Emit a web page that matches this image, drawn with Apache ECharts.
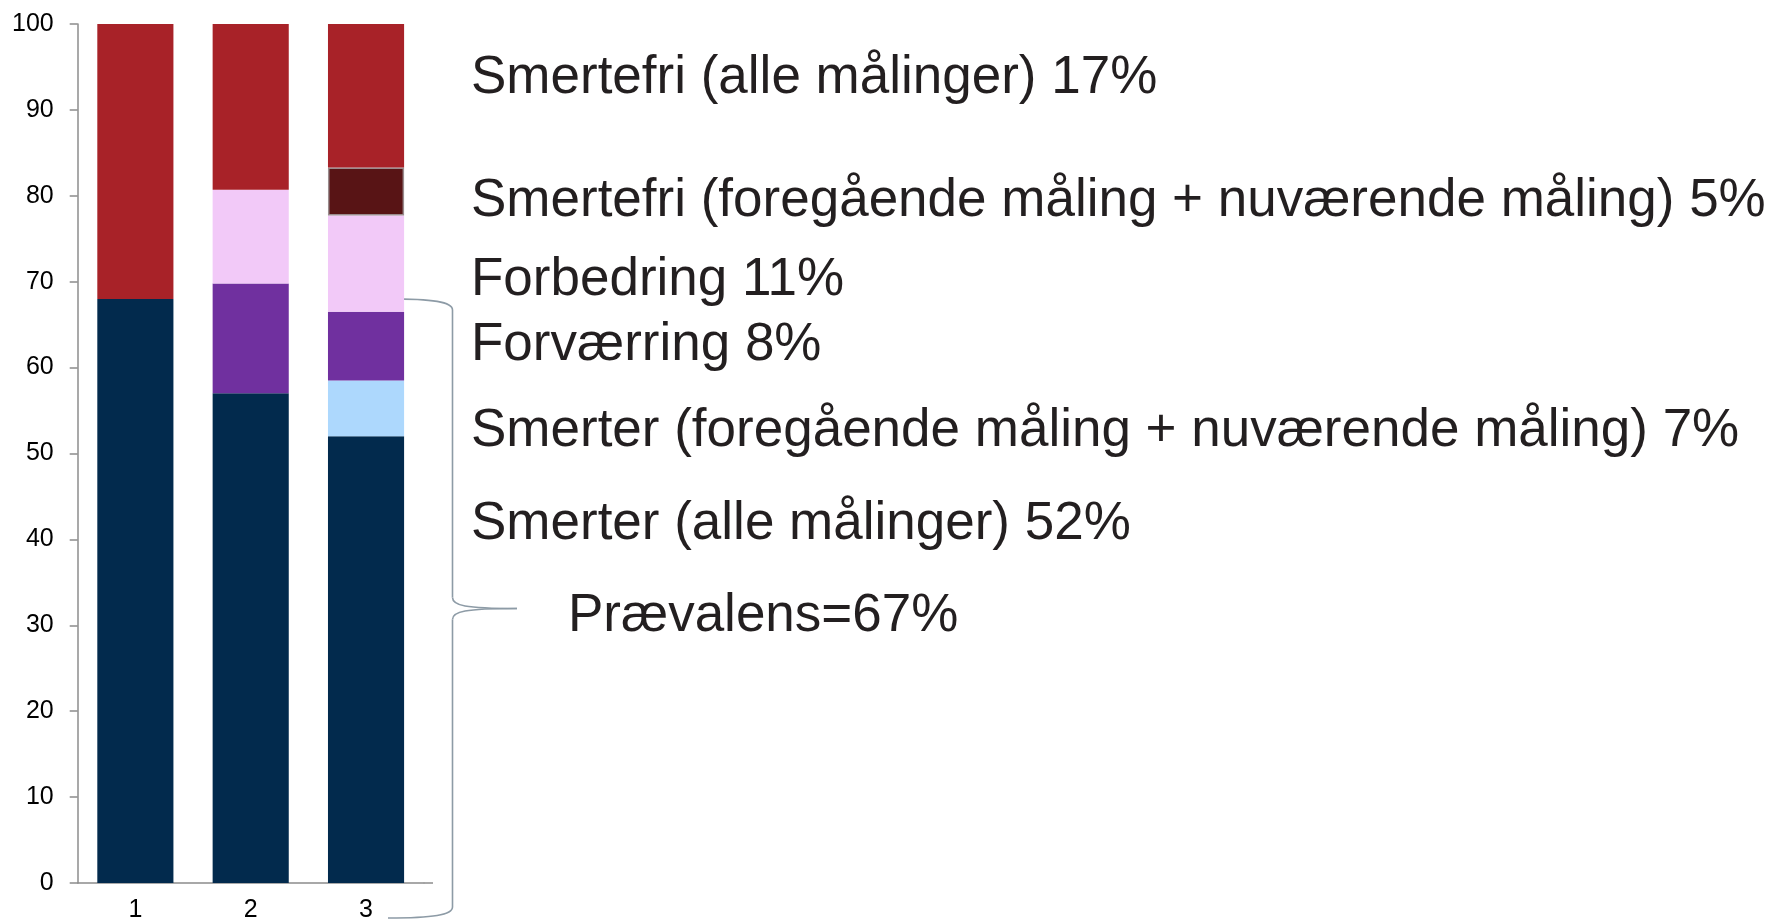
<!DOCTYPE html>
<html>
<head>
<meta charset="utf-8">
<script src="https://cdn.jsdelivr.net/npm/echarts@6/dist/echarts.min.js"></script>
<style>
  html, body { margin: 0; padding: 0; background: #ffffff; }
  #chart { width: 1775px; height: 923px; }
</style>
</head>
<body>
<div id="chart"></div>
<script>
// ---- data ----
var categories = ['1', '2', '3'];
var smerterAlle      = [68, 57, 52];
var smerterForeg     = ['-', '-', 6.5];
var forvaerring      = ['-', 12.8, 8];
var forbedring       = ['-', 10.9, 11.2];
var smertefriForeg   = ['-', '-', 5.6];
var smertefriAlle    = [32, 19.3, 16.7];
var yTicks = [0, 10, 20, 30, 40, 50, 60, 70, 80, 90, 100];

var annotationTexts = [
  'Smertefri (alle målinger) 17%',
  'Smertefri (foregående måling + nuværende måling) 5%',
  'Forbedring 11%',
  'Forværring 8%',
  'Smerter (foregående måling + nuværende måling) 7%',
  'Smerter (alle målinger) 52%'
];
var prevalenceText = 'Prævalens=67%';

// ---- chart ----
var FONT = '"Liberation Sans", Arial, sans-serif';
var chart = echarts.init(document.getElementById('chart'), null, { renderer: 'canvas' });

function barSeries(name, data, color, extra) {
  var s = {
    name: name,
    type: 'bar',
    stack: 'total',
    data: data,
    barWidth: '66%',
    itemStyle: { color: color },
    emphasis: { disabled: true }
  };
  if (extra) { for (var k in extra) s.itemStyle[k] = extra[k]; }
  return s;
}

var gridLeft = 77.7, gridTop = 24, gridWidth = 346, gridBottom = 37.3;

var option = {
  animation: false,
  backgroundColor: '#ffffff',
  grid: { left: gridLeft, top: gridTop, width: gridWidth, bottom: gridBottom, containLabel: false },
  xAxis: {
    type: 'category',
    data: categories,
    axisLine: { show: true, lineStyle: { color: '#8c8c8c', width: 1.5 } },
    axisTick: { show: false },
    axisLabel: { color: '#000000', fontSize: 25, fontFamily: FONT, margin: 15 },
    splitLine: { show: false }
  },
  yAxis: {
    type: 'value',
    min: yTicks[0],
    max: yTicks[yTicks.length - 1],
    interval: yTicks[1] - yTicks[0],
    axisLine: { show: true, lineStyle: { color: '#8c8c8c', width: 1.5 } },
    axisTick: { show: true, length: 8, lineStyle: { color: '#8c8c8c', width: 1.5 } },
    axisLabel: { color: '#000000', fontSize: 25, fontFamily: FONT, margin: 24 },
    splitLine: { show: false }
  },
  series: [
    barSeries('Smerter (alle målinger)', smerterAlle, '#022A4D'),
    barSeries('Smerter (foregående måling + nuværende måling)', smerterForeg, '#ADD8FD'),
    barSeries('Forværring', forvaerring, '#70309F'),
    barSeries('Forbedring', forbedring, '#F2C9F8'),
    barSeries('Smertefri (foregående måling + nuværende måling)', smertefriForeg, '#581415',
      { borderColor: '#9a8c8e', borderWidth: 1.5 }),
    barSeries('Smertefri (alle målinger)', smertefriAlle, '#A82228')
  ]
};
chart.setOption(option);

// ---- annotations (text + bracket) ----
var textCenters = [78, 201, 280, 345, 431, 524];
var graphics = [];
annotationTexts.forEach(function (t, i) {
  graphics.push({
    type: 'text', x: 471, y: textCenters[i], silent: true,
    style: { text: t, font: '53px ' + FONT, fill: '#231F20', verticalAlign: 'middle', align: 'left' }
  });
});
graphics.push({
  type: 'text', x: 568, y: 616, silent: true,
  style: { text: prevalenceText, font: '53px ' + FONT, fill: '#231F20', verticalAlign: 'middle', align: 'left' }
});

// x-axis line extension (axis overhang past last category)
var axisY = chart.convertToPixel({ yAxisIndex: 0 }, 0);
graphics.push({
  type: 'line', silent: true,
  shape: { x1: gridLeft + gridWidth, y1: axisY, x2: 433, y2: axisY },
  style: { stroke: '#8c8c8c', lineWidth: 1.5 }
});

// curly bracket spanning prevalence
var topY = chart.convertToPixel({ yAxisIndex: 0 }, 68);
var botY = axisY + 35;
var midY = (topY + botY) / 2;
var x0 = 388, xv = 452.5, xt = 517;
var bStyle = { stroke: '#8D9BA6', lineWidth: 1.6, fill: null };
function bez(x1, y1, c1x, c1y, c2x, c2y, x2, y2) {
  graphics.push({
    type: 'bezierCurve', silent: true,
    shape: { x1: x1, y1: y1, cpx1: c1x, cpy1: c1y, cpx2: c2x, cpy2: c2y, x2: x2, y2: y2 },
    style: bStyle
  });
}
function seg(x1, y1, x2, y2) {
  graphics.push({ type: 'line', silent: true, shape: { x1: x1, y1: y1, x2: x2, y2: y2 }, style: bStyle });
}
bez(x0, topY, x0 + 45, topY, xv, topY + 3, xv, topY + 11);
seg(xv, topY + 11, xv, midY - 11);
bez(xv, midY - 11, xv, midY - 3, xv + 12, midY, xt, midY);
bez(xt, midY, xv + 12, midY, xv, midY + 3, xv, midY + 11);
seg(xv, midY + 11, xv, botY - 11);
bez(xv, botY - 11, xv, botY - 3, x0 + 45, botY, x0, botY);

chart.setOption({ graphic: graphics });
</script>
</body>
</html>
